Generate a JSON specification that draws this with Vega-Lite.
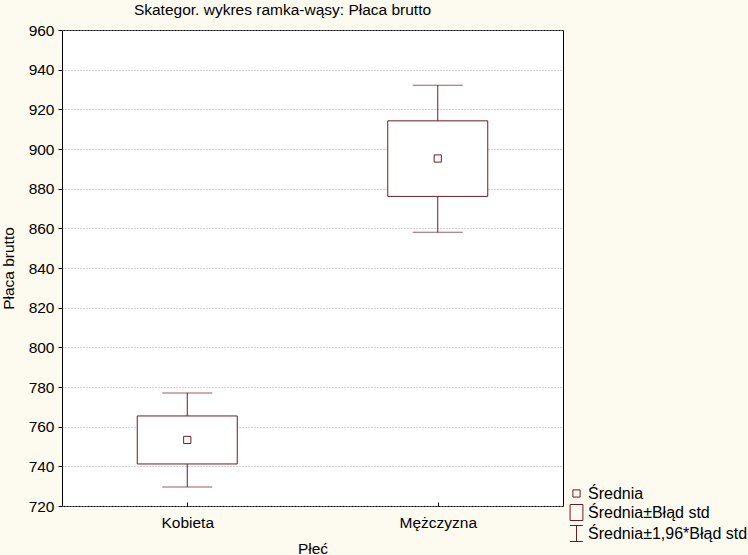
{
  "$schema": "https://vega.github.io/schema/vega-lite/v6.json",
  "width": 501,
  "height": 476,
  "autosize": {"type": "none"},
  "padding": {"left": 62, "top": 30, "right": 185, "bottom": 49},
  "background": "#FDFBF0",
  "config": {
    "font": "Liberation Sans",
    "view": {"stroke": "#000000", "strokeWidth": 1, "fill": "#FFFFFF"},
    "axis": {"labelFont": "Liberation Sans", "titleFont": "Liberation Sans", "labelFontSize": 15.5, "titleFontSize": 15.5, "labelColor": "#000000", "titleColor": "#000000", "titleFontWeight": "normal", "tickColor": "#000000", "domain": false},
    "axisY": {"tickCount": 20, "labelOverlap": false, "labelFlush": false, "tickSize": 4, "labelPadding": 4, "grid": true, "gridColor": "#A8A8A8", "gridDash": [1, 2], "gridWidth": 1}
  },
  "title": {"text": "Skategor. wykres ramka-wąsy: Płaca brutto", "fontSize": 15.5, "fontWeight": "normal", "font": "Liberation Sans", "color": "#000000", "anchor": "middle", "frame": "group", "dx": -30, "offset": 5},
  "data": {
    "values": [
      {"sex": "Kobieta", "mean": 753.3, "se_lo": 741.2, "se_hi": 765.4, "ci_lo": 729.6, "ci_hi": 777.0, "leg": "Średnia"},
      {"sex": "Mężczyzna", "mean": 895.2, "se_lo": 876.1, "se_hi": 914.2, "ci_lo": 858.0, "ci_hi": 932.2, "leg": "Średnia"}
    ]
  },
  "encoding": {
    "x": {"field": "sex", "type": "nominal", "sort": null, "scale": {"type": "point", "padding": 0.5},
      "axis": {"title": "Płeć", "labelAngle": 0, "tickSize": -4, "labelPadding": 13, "titlePadding": 11, "grid": false}}
  },
  "layer": [
    {
      "mark": {"type": "rule", "color": "#6F1A22", "strokeWidth": 1},
      "encoding": {
        "y": {"field": "ci_lo", "type": "quantitative", "scale": {"domain": [720, 960], "nice": false, "zero": false},
          "axis": {"title": "Płaca brutto", "values": [720, 740, 760, 780, 800, 820, 840, 860, 880, 900, 920, 940, 960], "tickCount": 20, "titleX": -46, "titleY": 238}},
        "y2": {"field": "ci_hi"}
      }
    },
    {
      "mark": {"type": "tick", "color": "#6F1A22", "thickness": 1, "size": 50, "orient": "horizontal"},
      "encoding": {"y": {"field": "ci_lo", "type": "quantitative"}}
    },
    {
      "mark": {"type": "tick", "color": "#6F1A22", "thickness": 1, "size": 50, "orient": "horizontal"},
      "encoding": {"y": {"field": "ci_hi", "type": "quantitative"}}
    },
    {
      "mark": {"type": "bar", "width": 100, "fill": "#FFFFFF", "stroke": "#6F1A22", "strokeWidth": 1},
      "encoding": {"y": {"field": "se_lo", "type": "quantitative"}, "y2": {"field": "se_hi"}}
    },
    {
      "mark": {"type": "point", "filled": false, "stroke": "#6F1A22", "strokeWidth": 1, "size": 256, "opacity": 1},
      "encoding": {
        "y": {"field": "mean", "type": "quantitative"},
        "shape": {"field": "leg", "type": "nominal",
          "scale": {"domain": ["Średnia", "Średnia±Błąd std", "Średnia±1,96*Błąd std"],
            "range": ["M-0.45,-0.45H0.45V0.45H-0.45Z", "M-0.8,-1H0.8V1H-0.8Z", "M-0.8,-1H0.8M0,-1V1M-0.8,1H0.8"]},
          "legend": {"title": null, "orient": "none", "legendX": 506, "legendY": 455, "labelFontSize": 16, "labelFont": "Liberation Sans", "labelColor": "#000000", "symbolSize": 256, "symbolStrokeColor": "#6F1A22", "symbolFillColor": "transparent", "symbolStrokeWidth": 1, "symbolOpacity": 1, "labelOffset": 3, "rowPadding": 0, "padding": 0}}
      }
    }
  ]
}
